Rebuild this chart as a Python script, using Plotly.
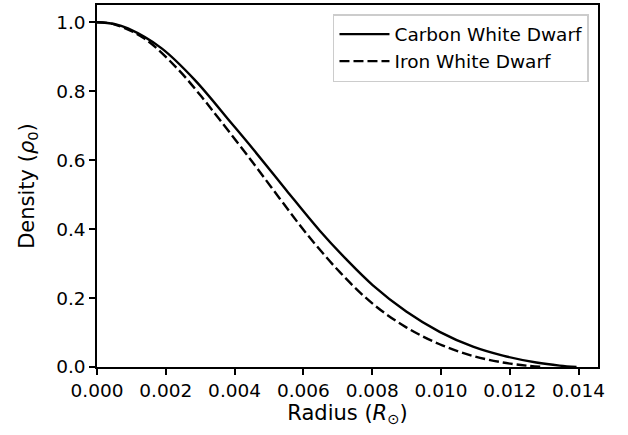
import plotly.graph_objects as go

# radius in solar radii, density in units of rho_0
carbon_r = [0.0, 0.0005, 0.0009, 0.00187, 0.00284, 0.00391, 0.00453, 0.00551, 0.00647,
            0.00725, 0.00802, 0.00899, 0.00996, 0.01093, 0.0118, 0.01277, 0.01345, 0.01394]
carbon_rho = [1.0, 0.995, 0.982, 0.925, 0.833, 0.707, 0.633, 0.512, 0.396,
              0.312, 0.237, 0.161, 0.102, 0.059, 0.033, 0.013, 0.004, 0.0]

iron_r = [0.0, 0.0005, 0.00139, 0.00235, 0.00303, 0.00357, 0.00453, 0.00531, 0.00609,
          0.00706, 0.00802, 0.00899, 0.00996, 0.01093, 0.0118, 0.01248, 0.01297]
iron_rho = [1.0, 0.994, 0.952, 0.864, 0.785, 0.717, 0.593, 0.489, 0.387,
            0.275, 0.183, 0.115, 0.066, 0.032, 0.013, 0.004, 0.0]

x_ticks = [0.0, 0.002, 0.004, 0.006, 0.008, 0.010, 0.012, 0.014]
y_ticks = [0.0, 0.2, 0.4, 0.6, 0.8, 1.0]

fig = go.Figure()
fig.add_trace(go.Scatter(x=carbon_r, y=carbon_rho, mode='lines', name='Carbon White Dwarf',
                         line=dict(color='black', width=2.4, shape='spline', smoothing=1.0)))
fig.add_trace(go.Scatter(x=iron_r, y=iron_rho, mode='lines', name='Iron White Dwarf',
                         line=dict(color='black', width=2.4, dash='10px,4px', shape='spline', smoothing=1.0)))

axis_style = dict(showline=True, linecolor='black', linewidth=1.5, mirror=True,
                  ticks='outside', ticklen=6, tickwidth=1.5, tickcolor='black',
                  showgrid=False, zeroline=False, automargin=False,
                  tickfont=dict(size=18.5, color='black'))

fig.update_layout(
    width=628, height=435,
    margin=dict(l=97, r=30, t=5, b=68),
    paper_bgcolor='white', plot_bgcolor='white',
    font=dict(family='DejaVu Sans', size=18.5, color='black'),
    xaxis=dict(range=[0, 0.014564], tickvals=x_ticks, tickformat='.3f',
               title=dict(text='Radius (<i>R</i><sub>⊙</sub>)', standoff=2, font=dict(size=21)),
               **axis_style),
    yaxis=dict(range=[0, 1.05], tickvals=y_ticks, tickformat='.1f',
               title=dict(text='Density (<i>ρ</i><sub>0</sub>)', standoff=16, font=dict(size=21)),
               **axis_style),
    legend=dict(x=0.982, y=0.975, xanchor='right', yanchor='top', itemwidth=50,
                bordercolor='#cccccc', borderwidth=1.5, bgcolor='rgba(255,255,255,0.8)',
                font=dict(size=18.5)),
)

# the page body has a default 8px margin; drop it so the figure sits at the corner
fig.write_html("out.html", config={'displayModeBar': False},
               post_script="document.body.style.margin='0';")
